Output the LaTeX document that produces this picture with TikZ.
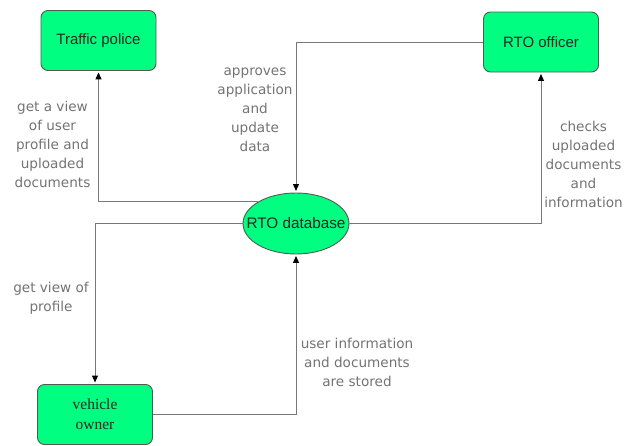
\documentclass[tikz,border=0pt]{standalone}
\usepackage{fontspec}
\setmainfont{Liberation Sans}
\newfontfamily\labelfont{DejaVu Sans}
\newfontfamily\serifname{Liberation Serif}
\usetikzlibrary{arrows.meta,shapes.geometric}

\definecolor{boxgreen}{RGB}{0,255,128}
\definecolor{boxedge}{RGB}{80,90,85}
\definecolor{flowline}{RGB}{120,120,120}
\definecolor{flowtext}{RGB}{115,115,115}

\tikzset{
  entity/.style={draw=boxedge, fill=boxgreen, line width=0.9pt, rounded corners=7pt,
    minimum width=115pt, minimum height=60pt, inner sep=0pt, align=center,
    font=\fontsize{15}{19}\selectfont, text=black!85},
  store/.style={draw=boxedge, fill=boxgreen, line width=0.9pt, ellipse,
    minimum width=106pt, minimum height=61pt, inner sep=0pt,
    font=\fontsize{15.3}{19}\selectfont, text=black!85},
  flow/.style={draw=flowline, line width=1pt,
    -{Triangle[length=7pt,width=6pt,color=black]}, shorten >=1.5pt},
  flowlabel/.style={align=center, text=flowtext,
    font=\labelfont\fontsize{13.6}{19}\selectfont, inner sep=0pt}
}

\begin{document}
\begin{tikzpicture}[x=1pt,y=-1pt]
  \useasboundingbox (0,0) rectangle (635,445);

  % entities and the data store
  \node[entity] (tp) at (98.5,40.5) {Traffic police};
  \node[entity] (ro) at (541,42) {RTO officer};
  \node[entity, font=\serifname\fontsize{15.5}{20}\selectfont] (vo) at (95,414.5) {vehicle\\owner};
  \node[store] (db) at (296,223.5) {\makebox[0pt]{RTO database}};

  % data flows
  \draw[flow] (db.150) -| (tp.south);
  \draw[flow] (ro.west) -| (db.north);
  \draw[flow] (db.east) -| (ro.south);
  \draw[flow] (db.west) -| (vo.north);
  \draw[flow] (vo.east) -| (db.south);

  % flow descriptions
  \node[flowlabel] (l1) at (52.5,144.5) {get a view\\of user\\profile and\\uploaded\\documents};
  \node[flowlabel] (l2) at (255,109.5) {approves\\application\\and\\update\\data};
  \node[flowlabel] (l3) at (583.5,164.5) {checks\\uploaded\\documents\\and\\information};
  \node[flowlabel] (l4) at (51,298) {get view of\\profile};
  \node[flowlabel] (l5) at (357,362) {user information\\and documents\\are stored};
\end{tikzpicture}
\end{document}
